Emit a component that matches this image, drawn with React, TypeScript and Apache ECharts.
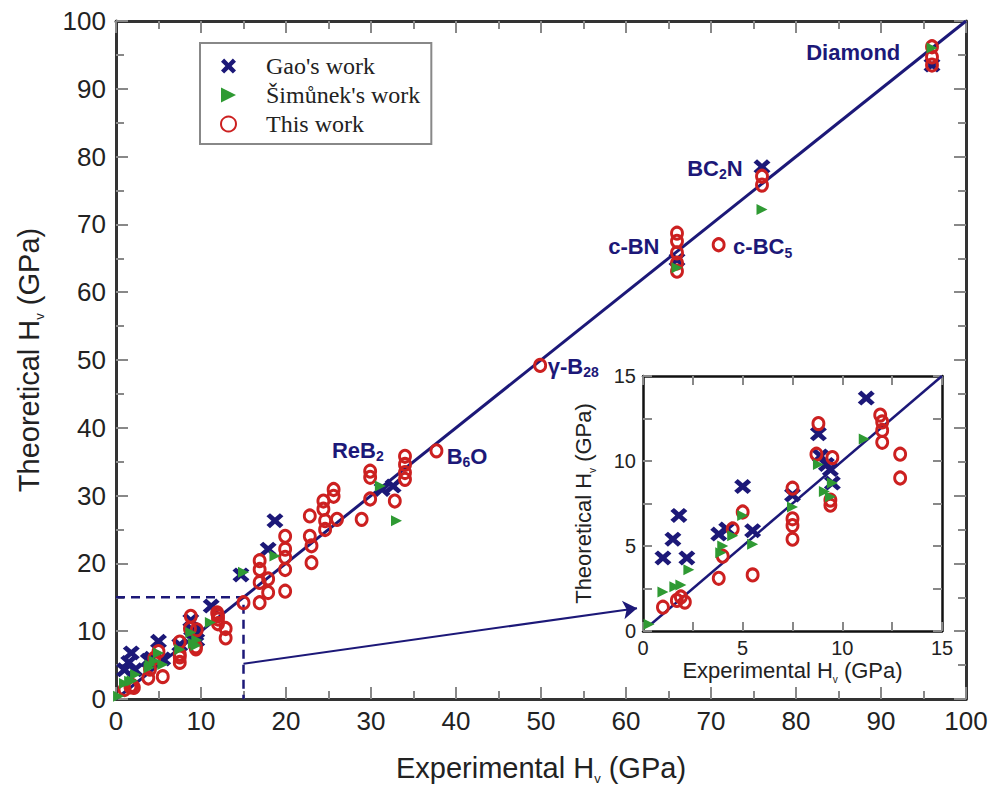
import React, { useEffect, useRef } from "react";
import * as echarts from "echarts";

// ---- data (Experimental Hv, Theoretical Hv) in GPa ----
const gaoWork: number[][] = [
  [1.0, 4.3], [1.5, 5.4], [1.8, 6.8], [2.2, 4.3], [3.8, 5.7], [4.2, 6.0], [5.0, 8.5], [5.5, 5.9],
  [7.5, 8.0], [8.8, 11.6], [8.9, 10.3], [9.2, 9.8], [9.4, 9.5], [9.5, 8.7], [11.2, 13.7],
  [14.7, 18.3], [17.9, 22.1], [18.7, 26.3], [31.3, 30.9], [32.6, 31.4], [66.0, 64.8],
  [76.0, 78.5], [96.0, 93.5],
];
const simunekWork: number[][] = [
  [0.3, 0.4], [1.0, 2.3], [1.6, 2.6], [1.9, 2.7], [2.3, 3.6], [3.9, 4.6], [4.0, 5.0], [4.5, 5.6],
  [5.0, 6.8], [5.5, 5.1], [7.5, 7.3], [8.8, 9.8], [9.1, 8.2], [9.4, 7.9], [9.5, 8.7], [11.1, 11.3],
  [15.0, 18.7], [18.7, 21.1], [31.1, 31.4], [33.0, 26.3], [66.0, 63.6], [76.0, 72.2], [96.0, 96.0],
];
const thisWork: number[][] = [
  [1.0, 1.4], [1.7, 1.8], [1.9, 2.0], [2.1, 1.7], [3.8, 3.1], [4.0, 4.4], [4.5, 6.0], [5.0, 7.0],
  [5.5, 3.3], [7.5, 8.4], [7.5, 6.6], [7.5, 6.2], [7.5, 5.4], [8.7, 10.4], [8.8, 12.2], [9.5, 10.2],
  [9.4, 7.7], [9.4, 7.4], [11.9, 12.7], [12.0, 12.3], [12.0, 11.8], [12.0, 11.1], [12.9, 10.4],
  [12.9, 9.0], [15.0, 14.2], [16.9, 14.2], [16.9, 17.2], [16.9, 19.1], [16.9, 20.4], [17.9, 15.7],
  [17.9, 17.7], [19.9, 15.9], [19.9, 19.1], [19.9, 20.9], [19.9, 22.1], [19.9, 24.0], [22.8, 24.0],
  [22.8, 27.0], [23.0, 22.6], [23.0, 20.1], [24.4, 28.0], [24.4, 29.2], [24.6, 25.0], [24.6, 26.3],
  [25.6, 29.9], [25.6, 30.9], [26.0, 26.5], [28.9, 26.5], [29.9, 29.5], [29.9, 32.7], [29.9, 33.6],
  [32.8, 29.2], [34.0, 32.4], [34.0, 33.4], [34.0, 34.6], [34.0, 35.8], [37.7, 36.6], [49.9, 49.2],
  [66.0, 63.1], [66.0, 64.3], [66.0, 65.8], [66.0, 67.5], [66.0, 68.7], [70.9, 67.0], [76.0, 75.8],
  [76.0, 77.1], [96.0, 93.5], [96.0, 94.7], [96.0, 96.2],
];
const seriesNames = ["Gao's work", "Šimůnek's work", "This work"];
const mainTicks = { min: 0, max: 100, interval: 10 };
const insetTicks = { min: 0, max: 15, interval: 5 };
const diagonalMain: number[][] = [[0, 0], [100, 100]];
const diagonalInset: number[][] = [[0.4, 0.4], [15, 15]];
const zoomBox: number[][] = [[0, 15], [15, 15], [15, 0]];
const arrowFrom = [15, 5.2];
const arrowTo = [61.3, 13.4];
const labelX = [81.2, 67.2, 57.9, 72.6, 50.8, 25.4, 38.9];
const labelY = [95.4, 78.3, 66.7, 66.7, 49.1, 36.7, 35.8];
const labelText = [
  "{a|Diamond}", "{a|BC}{s|2}{a|N}", "{a|c-BN}", "{a|c-BC}{s|5}",
  "{a|γ-B}{s|28}", "{a|ReB}{s|2}", "{a|B}{s|6}{a|O}",
];

const NAVY = "#1c1878";
const RED = "#cc2020";
const GREEN = "#2f9a33";
const SANS = '"Liberation Sans", Arial, sans-serif';
const SERIF = '"Liberation Serif", "Times New Roman", serif';
const X_PATH = "path://M0,2.5L2.5,0L6,3.5L9.5,0L12,2.5L8.5,6L12,9.5L9.5,12L6,8.5L2.5,12L0,9.5L3.5,6Z";
const TRI_PATH = "path://M0,0L10,5L0,10Z";

const nameRich = (size: number, sub: number) => ({
  fontFamily: SANS,
  color: "#222",
  rich: {
    a: { fontFamily: SANS, fontSize: size, lineHeight: size + 5, color: "#222" },
    s: { fontFamily: SANS, fontSize: sub, lineHeight: sub, verticalAlign: "bottom", color: "#222" },
  },
});

function makeAxis(grid: number, t: any, opts: any) {
  const { position, showLabel, fontSize, tickLen, minorLen, lineColor, lineWidth, margin } = opts;
  return {
    type: "value",
    gridIndex: grid,
    position,
    min: t.min,
    max: t.max,
    interval: t.interval,
    axisLine: { show: true, onZero: false, lineStyle: { color: lineColor, width: lineWidth } },
    axisTick: { show: true, inside: true, length: tickLen, lineStyle: { color: "#888", width: 2 } },
    minorTick: { show: true, splitNumber: 2, length: minorLen, lineStyle: { color: "#888", width: 2 } },
    splitLine: { show: false },
    axisLabel: {
      show: showLabel,
      fontSize,
      fontFamily: SANS,
      color: "#222",
      margin,
    },
  };
}

const inInset = (p: number[]) => p[0] < 14.8 && p[1] < 14.8;

export default function App() {
  const ref = useRef<HTMLDivElement>(null);
  useEffect(() => {
    if (!ref.current) return;
    const chart = echarts.init(ref.current, undefined, { renderer: "svg" });

    const mainAx = { fontSize: 26, tickLen: 12, minorLen: 8, lineColor: "#333", lineWidth: 3, margin: 9 };
    const insAx = { fontSize: 20, tickLen: 9, minorLen: 9, lineColor: "#111", lineWidth: 2.5, margin: 7 };

    const scatterStyles = [
      { symbol: X_PATH, symbolSize: [17, 15], itemStyle: { color: NAVY, opacity: 1 }, z: 3 },
      { symbol: TRI_PATH, symbolSize: [11, 11], itemStyle: { color: GREEN, opacity: 1 }, z: 5 },
      {
        symbol: "circle",
        symbolSize: [11, 12],
        itemStyle: { color: "rgba(0,0,0,0)", borderColor: RED, borderWidth: 3, opacity: 1 },
        z: 4,
      },
    ];
    const datasets = [gaoWork, simunekWork, thisWork];

    const scatterSeries: any[] = [];
    datasets.forEach((d, i) => {
      scatterSeries.push({
        name: seriesNames[i],
        type: "scatter",
        xAxisIndex: 0,
        yAxisIndex: 0,
        data: d,
        ...scatterStyles[i],
      });
      scatterSeries.push({
        name: seriesNames[i],
        type: "scatter",
        xAxisIndex: 2,
        yAxisIndex: 2,
        data: d.filter(inInset),
        ...scatterStyles[i],
      });
    });

    const option: any = {
      animation: false,
      backgroundColor: "#fff",
      grid: [
        { left: 116, right: 28, top: 21, bottom: 92, containLabel: false },
        { left: 643, right: 52, top: 376, bottom: 160, containLabel: false, show: true, backgroundColor: "#fff", borderWidth: 0 },
      ],
      legend: {
        data: seriesNames,
        orient: "vertical",
        left: 200,
        top: 43,
        itemWidth: 15,
        itemHeight: 15,
        itemGap: 5,
        padding: [11, 11, 8, 20],
        borderColor: "#888",
        borderWidth: 2,
        backgroundColor: "#fff",
        selectedMode: false,
        textStyle: { fontFamily: SERIF, fontSize: 24, lineHeight: 20, color: "#222", padding: [0, 0, 0, 25] },
      },
      xAxis: [
        {
          ...makeAxis(0, mainTicks, { ...mainAx, position: "bottom", showLabel: true }),
          name: "{a|Experimental H}{s|v}{a| (GPa)}",
          nameLocation: "middle",
          nameGap: 52,
          nameTextStyle: nameRich(29, 13),
        },
        makeAxis(0, mainTicks, { ...mainAx, position: "top", showLabel: false }),
        {
          ...makeAxis(1, insetTicks, { ...insAx, position: "bottom", showLabel: true }),
          name: "{a|Experimental H}{s|v}{a| (GPa)}",
          nameLocation: "middle",
          nameGap: 26,
          nameTextStyle: nameRich(22, 10),
        },
        makeAxis(1, insetTicks, { ...insAx, position: "top", showLabel: false }),
      ],
      yAxis: [
        {
          ...makeAxis(0, mainTicks, { ...mainAx, position: "left", showLabel: true, margin: 10 }),
          name: "{a|Theoretical H}{s|v}{a| (GPa)}",
          nameLocation: "middle",
          nameRotate: 90,
          nameGap: 70,
          nameTextStyle: nameRich(29, 13),
        },
        makeAxis(0, mainTicks, { ...mainAx, position: "right", showLabel: false }),
        {
          ...makeAxis(1, insetTicks, { ...insAx, position: "left", showLabel: true }),
          name: "{a|Theoretical H}{s|v}{a| (GPa)}",
          nameLocation: "middle",
          nameRotate: 90,
          nameGap: 46,
          nameTextStyle: nameRich(22, 10),
        },
        makeAxis(1, insetTicks, { ...insAx, position: "right", showLabel: false }),
      ],
      series: [
        {
          type: "line",
          xAxisIndex: 0,
          yAxisIndex: 0,
          data: diagonalMain,
          symbol: "none",
          lineStyle: { color: NAVY, width: 3 },
          z: 2,
          silent: true,
        },
        {
          type: "line",
          xAxisIndex: 0,
          yAxisIndex: 0,
          data: zoomBox,
          symbol: "none",
          lineStyle: { color: NAVY, width: 2.5, type: [9, 6] },
          z: 2,
          silent: true,
          markLine: {
            silent: true,
            symbol: ["none", "arrow"],
            symbolSize: 14,
            label: { show: false },
            lineStyle: { color: NAVY, width: 2, type: "solid" },
            data: [[{ coord: arrowFrom }, { coord: arrowTo }]],
          },
        },
        {
          type: "line",
          xAxisIndex: 2,
          yAxisIndex: 2,
          data: diagonalInset,
          symbol: "none",
          lineStyle: { color: NAVY, width: 2.5 },
          z: 2,
          silent: true,
        },
        ...scatterSeries,
        {
          type: "scatter",
          xAxisIndex: 0,
          yAxisIndex: 0,
          symbolSize: 0,
          silent: true,
          z: 6,
          itemStyle: { opacity: 1 },
          data: labelX.map((x, i) => [x, labelY[i], labelText[i]]),
          label: {
            show: true,
            position: "right",
            distance: 0,
            opacity: 1,
            formatter: (p: any) => p.data[2],
            rich: {
              a: { fontFamily: SANS, fontSize: 22, fontWeight: "bold", color: NAVY, lineHeight: 26 },
              s: { fontFamily: SANS, fontSize: 14, fontWeight: "bold", color: NAVY, lineHeight: 14, verticalAlign: "bottom" },
            },
          },
        },
      ],
    };
    chart.setOption(option);
    return () => chart.dispose();
  }, []);
  return <div ref={ref} style={{ width: 994, height: 791, position: "absolute", left: 0, top: 0 }} />;
}
